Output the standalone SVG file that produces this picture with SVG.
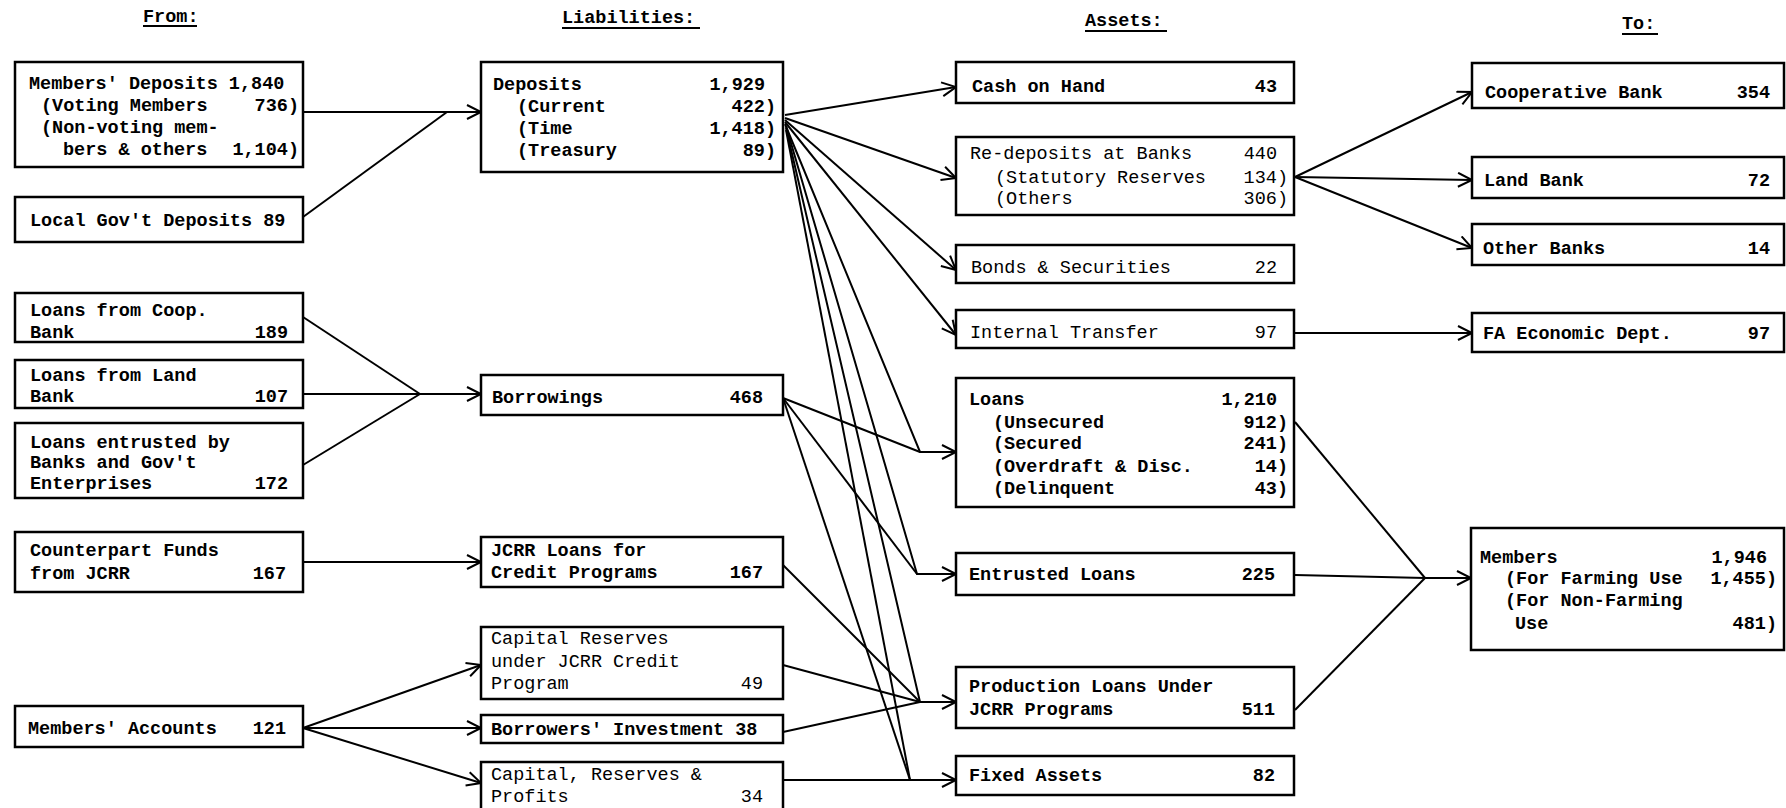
<svg xmlns="http://www.w3.org/2000/svg" width="1786" height="808" viewBox="0 0 1786 808">
<style>
rect{fill:#fff;stroke:#000;stroke-width:2.5}
text{font-family:"Liberation Mono","DejaVu Sans Mono",monospace;font-size:18.5px;fill:#000;font-weight:bold}
.n{font-weight:normal}
.e{text-anchor:end}
.h{font-size:18.5px;font-weight:bold}
.ul{stroke:#000;stroke-width:2}
#connectors path{fill:none;stroke:#000;stroke-width:2}
.a{marker-end:url(#arr)}
</style>
<defs>
<marker id="arr" markerUnits="userSpaceOnUse" markerWidth="18" markerHeight="18" refX="15" refY="8" orient="auto">
<path d="M1,1 L15,8 L1,15" fill="none" stroke="#000" stroke-width="2"/>
</marker>
</defs>
<rect x="0" y="0" width="1786" height="808" style="fill:#fff;stroke:none"/>
<g id="headers">
<text class="h" x="143" y="22">From:</text><line class="ul" x1="143" y1="26" x2="197" y2="26"/>
<text class="h" x="562" y="23">Liabilities:</text><line class="ul" x1="562" y1="28" x2="700" y2="28"/>
<text class="h" x="1085" y="26">Assets:</text><line class="ul" x1="1085" y1="31" x2="1167" y2="31"/>
<text class="h" x="1622" y="29">To:</text><line class="ul" x1="1622" y1="34" x2="1658" y2="34"/>
</g>
<g id="connectors">
<path d="M303,112 L447,112 L481,112" class="a"/>
<path d="M303,217 L447,112"/>
<path d="M303,317 L420,394"/>
<path d="M303,394 L420,394"/>
<path d="M303,465 L420,394"/>
<path d="M420,394 L481,394" class="a"/>
<path d="M303,562 L481,562" class="a"/>
<path d="M303,728 L481,665" class="a"/>
<path d="M303,728 L481,728" class="a"/>
<path d="M303,728 L481,783" class="a"/>
<path d="M785,115 L956,87" class="a"/>
<path d="M785,118 L956,178" class="a"/>
<path d="M785,120 L956,270" class="a"/>
<path d="M785,122 L956,335" class="a"/>
<path d="M785,124 L920,452 L956,452" class="a"/>
<path d="M783,398 L920,452"/>
<path d="M786,126 L917,574 L956,574" class="a"/>
<path d="M783,398 L917,574"/>
<path d="M786,128 L920,702 L956,702" class="a"/>
<path d="M783,565 L920,702"/>
<path d="M783,665 L920,702"/>
<path d="M783,732 L920,702"/>
<path d="M786,130 L910,780"/>
<path d="M783,398 L910,780"/>
<path d="M783,780 L956,780" class="a"/>
<path d="M1295,177 L1472,92" class="a"/>
<path d="M1295,177 L1472,180" class="a"/>
<path d="M1295,177 L1472,248" class="a"/>
<path d="M1295,333 L1472,333" class="a"/>
<path d="M1295,422 L1425,578"/>
<path d="M1295,575 L1425,578"/>
<path d="M1295,710 L1425,578"/>
<path d="M1425,578 L1471,578" class="a"/>
</g>
<g id="members-deposits">
<rect x="15" y="62" width="288" height="105"/>
<text x="29" y="89">Members' Deposits 1,840</text>
<text x="41" y="111">(Voting Members</text><text class="e" x="299" y="111">736)</text>
<text x="41" y="133">(Non-voting mem-</text>
<text x="63" y="155">bers &amp; others</text><text class="e" x="299" y="155">1,104)</text>
</g>
<g id="local-govt-deposits">
<rect x="15" y="197" width="288" height="45"/>
<text x="30" y="226">Local Gov't Deposits 89</text>
</g>
<g id="loans-coop-bank">
<rect x="15" y="293" width="288" height="49"/>
<text x="30" y="316">Loans from Coop.</text>
<text x="30" y="338">Bank</text><text class="e" x="288" y="338">189</text>
</g>
<g id="loans-land-bank">
<rect x="15" y="360" width="288" height="48"/>
<text x="30" y="381">Loans from Land</text>
<text x="30" y="402">Bank</text><text class="e" x="288" y="402">107</text>
</g>
<g id="loans-entrusted">
<rect x="15" y="423" width="288" height="75"/>
<text x="30" y="448">Loans entrusted by</text>
<text x="30" y="468">Banks and Gov't</text>
<text x="30" y="489">Enterprises</text><text class="e" x="288" y="489">172</text>
</g>
<g id="counterpart-funds">
<rect x="15" y="532" width="288" height="60"/>
<text x="30" y="556">Counterpart Funds</text>
<text x="30" y="579">from JCRR</text><text class="e" x="286" y="579">167</text>
</g>
<g id="members-accounts">
<rect x="15" y="706" width="288" height="41"/>
<text x="28" y="734">Members' Accounts</text><text class="e" x="286" y="734">121</text>
</g>
<g id="deposits">
<rect x="481" y="62" width="302" height="110"/>
<text x="493" y="90">Deposits</text><text class="e" x="765" y="90">1,929</text>
<text x="517" y="112">(Current</text><text class="e" x="776" y="112">422)</text>
<text x="517" y="134">(Time</text><text class="e" x="776" y="134">1,418)</text>
<text x="517" y="156">(Treasury</text><text class="e" x="776" y="156">89)</text>
</g>
<g id="borrowings">
<rect x="481" y="375" width="302" height="40"/>
<text x="492" y="403">Borrowings</text><text class="e" x="763" y="403">468</text>
</g>
<g id="jcrr-loans">
<rect x="481" y="537" width="302" height="50"/>
<text x="491" y="556">JCRR Loans for</text>
<text x="491" y="578">Credit Programs</text><text class="e" x="763" y="578">167</text>
</g>
<g id="capital-reserves-jcrr">
<rect x="481" y="627" width="302" height="72"/>
<text class="n" x="491" y="644">Capital Reserves</text>
<text class="n" x="491" y="667">under JCRR Credit</text>
<text class="n" x="491" y="689">Program</text><text class="e n" x="763" y="689">49</text>
</g>
<g id="borrowers-investment">
<rect x="481" y="715" width="302" height="28"/>
<text x="491" y="735">Borrowers' Investment 38</text>
</g>
<g id="capital-reserves-profits">
<rect x="481" y="762" width="302" height="60"/>
<text class="n" x="491" y="780">Capital, Reserves &amp;</text>
<text class="n" x="491" y="802">Profits</text><text class="e n" x="763" y="802">34</text>
</g>
<g id="cash-on-hand">
<rect x="956" y="62" width="338" height="41"/>
<text x="972" y="92">Cash on Hand</text><text class="e" x="1277" y="92">43</text>
</g>
<g id="re-deposits">
<rect x="956" y="137" width="338" height="78"/>
<text class="n" x="970" y="159">Re-deposits at Banks</text><text class="e n" x="1277" y="159">440</text>
<text class="n" x="995" y="183">(Statutory Reserves</text><text class="e n" x="1288" y="183">134)</text>
<text class="n" x="995" y="204">(Others</text><text class="e n" x="1288" y="204">306)</text>
</g>
<g id="bonds-securities">
<rect x="956" y="245" width="338" height="38"/>
<text class="n" x="971" y="273">Bonds &amp; Securities</text><text class="e n" x="1277" y="273">22</text>
</g>
<g id="internal-transfer">
<rect x="956" y="310" width="338" height="38"/>
<text class="n" x="970" y="338">Internal Transfer</text><text class="e n" x="1277" y="338">97</text>
</g>
<g id="loans">
<rect x="956" y="378" width="338" height="129"/>
<text x="969" y="405">Loans</text><text class="e" x="1277" y="405">1,210</text>
<text x="993" y="428">(Unsecured</text><text class="e" x="1288" y="428">912)</text>
<text x="993" y="449">(Secured</text><text class="e" x="1288" y="449">241)</text>
<text x="993" y="472">(Overdraft &amp; Disc.</text><text class="e" x="1288" y="472">14)</text>
<text x="993" y="494">(Delinquent</text><text class="e" x="1288" y="494">43)</text>
</g>
<g id="entrusted-loans">
<rect x="956" y="553" width="338" height="42"/>
<text x="969" y="580">Entrusted Loans</text><text class="e" x="1275" y="580">225</text>
</g>
<g id="production-loans">
<rect x="956" y="667" width="338" height="61"/>
<text x="969" y="692">Production Loans Under</text>
<text x="969" y="715">JCRR Programs</text><text class="e" x="1275" y="715">511</text>
</g>
<g id="fixed-assets">
<rect x="956" y="756" width="338" height="39"/>
<text x="969" y="781">Fixed Assets</text><text class="e" x="1275" y="781">82</text>
</g>
<g id="cooperative-bank">
<rect x="1472" y="63" width="312" height="45"/>
<text x="1485" y="98">Cooperative Bank</text><text class="e" x="1770" y="98">354</text>
</g>
<g id="land-bank">
<rect x="1472" y="157" width="312" height="41"/>
<text x="1484" y="186">Land Bank</text><text class="e" x="1770" y="186">72</text>
</g>
<g id="other-banks">
<rect x="1472" y="224" width="312" height="41"/>
<text x="1483" y="254">Other Banks</text><text class="e" x="1770" y="254">14</text>
</g>
<g id="fa-economic-dept">
<rect x="1472" y="313" width="312" height="39"/>
<text x="1483" y="339">FA Economic Dept.</text><text class="e" x="1770" y="339">97</text>
</g>
<g id="members">
<rect x="1471" y="528" width="313" height="122"/>
<text x="1480" y="563">Members</text><text class="e" x="1767" y="563">1,946</text>
<text x="1505" y="584">(For Farming Use</text><text class="e" x="1777" y="584">1,455)</text>
<text x="1505" y="606">(For Non-Farming</text>
<text x="1515" y="629">Use</text><text class="e" x="1777" y="629">481)</text>
</g>
</svg>
